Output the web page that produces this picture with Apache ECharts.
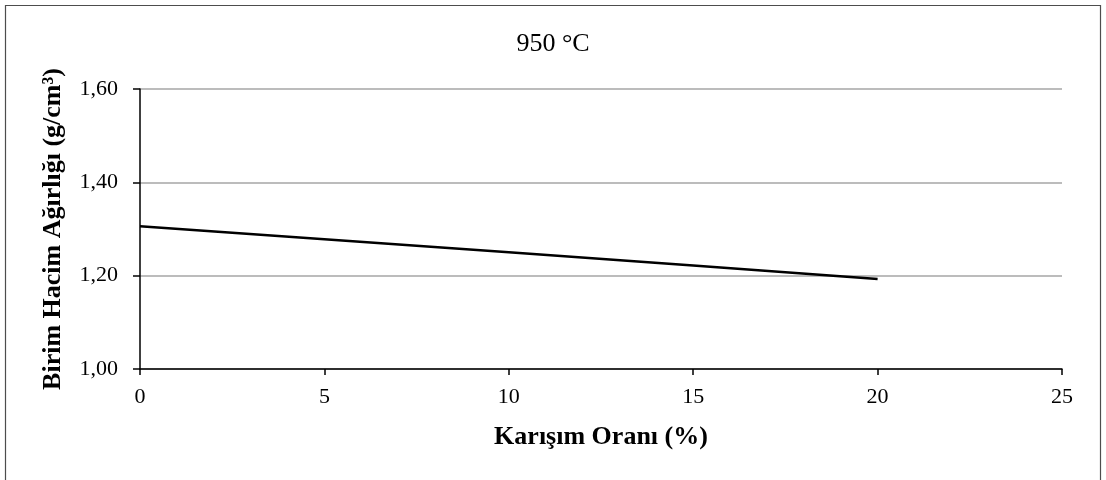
<!DOCTYPE html>
<html>
<head>
<meta charset="utf-8">
<script src="https://cdn.jsdelivr.net/npm/echarts@6/dist/echarts.min.js"></script>
<style>
  html, body { margin: 0; padding: 0; background: #fff; }
  #chart { width: 1106px; height: 480px; }
</style>
</head>
<body>
<div id="chart"></div>
<script>
// Mixing ratio (%) and unit volume weight (g/cm³) at 950 °C
const mixRatio = [0, 5, 10, 15, 20];
const unitWeight = [1.306, 1.278, 1.250, 1.222, 1.193];

const titleText = '950 °C';
const xAxisTitle = 'Karışım Oranı (%)';
const yAxisTitle = 'Birim Hacim Ağırlığı (g/cm³)';

const serif = '"Liberation Serif", "Times New Roman", serif';

const chart = echarts.init(document.getElementById('chart'), null, { renderer: 'canvas' });

chart.setOption({
  backgroundColor: '#ffffff',
  animation: false,
  graphic: [{
    type: 'rect',
    shape: { x: 5.5, y: 5.5, width: 1095, height: 490 },
    style: { fill: 'none', stroke: '#4d4d4d', lineWidth: 1.2 },
    silent: true
  }],
  title: {
    text: titleText,
    left: 'center',
    top: 26,
    textStyle: { fontFamily: serif, fontSize: 26, fontWeight: 'normal', color: '#000' }
  },
  grid: { left: 140, right: 44, top: 89, bottom: 111, containLabel: false },
  xAxis: {
    type: 'value',
    min: 0, max: 25, interval: 5,
    name: xAxisTitle,
    nameLocation: 'middle',
    nameGap: 55,
    nameTextStyle: { fontFamily: serif, fontSize: 26, fontWeight: 'bold', color: '#000' },
    axisLine: { show: true, onZero: false, lineStyle: { color: '#000', width: 1.5 } },
    axisTick: { show: true, length: 6, lineStyle: { color: '#000', width: 1.5 } },
    axisLabel: { margin: 17, fontFamily: serif, fontSize: 22, color: '#000' },
    splitLine: { show: false }
  },
  yAxis: {
    type: 'value',
    min: 1.0, max: 1.6, interval: 0.2,
    name: yAxisTitle,
    nameLocation: 'middle',
    nameGap: 74,
    nameTextStyle: { fontFamily: serif, fontSize: 26, fontWeight: 'bold', color: '#000' },
    axisLine: { show: true, lineStyle: { color: '#000', width: 1.5 } },
    axisTick: { show: true, length: 7, lineStyle: { color: '#000', width: 1.5 } },
    axisLabel: {
      margin: 22, fontFamily: serif, fontSize: 22, color: '#000',
      formatter: v => v.toFixed(2).replace('.', ',')
    },
    splitLine: { show: true, lineStyle: { color: '#a6a6a6', width: 1.5 } }
  },
  series: [{
    type: 'line',
    data: mixRatio.map((x, i) => [x, unitWeight[i]]),
    showSymbol: false,
    symbol: 'none',
    lineStyle: { color: '#000', width: 2.5 }
  }]
});
</script>
</body>
</html>
